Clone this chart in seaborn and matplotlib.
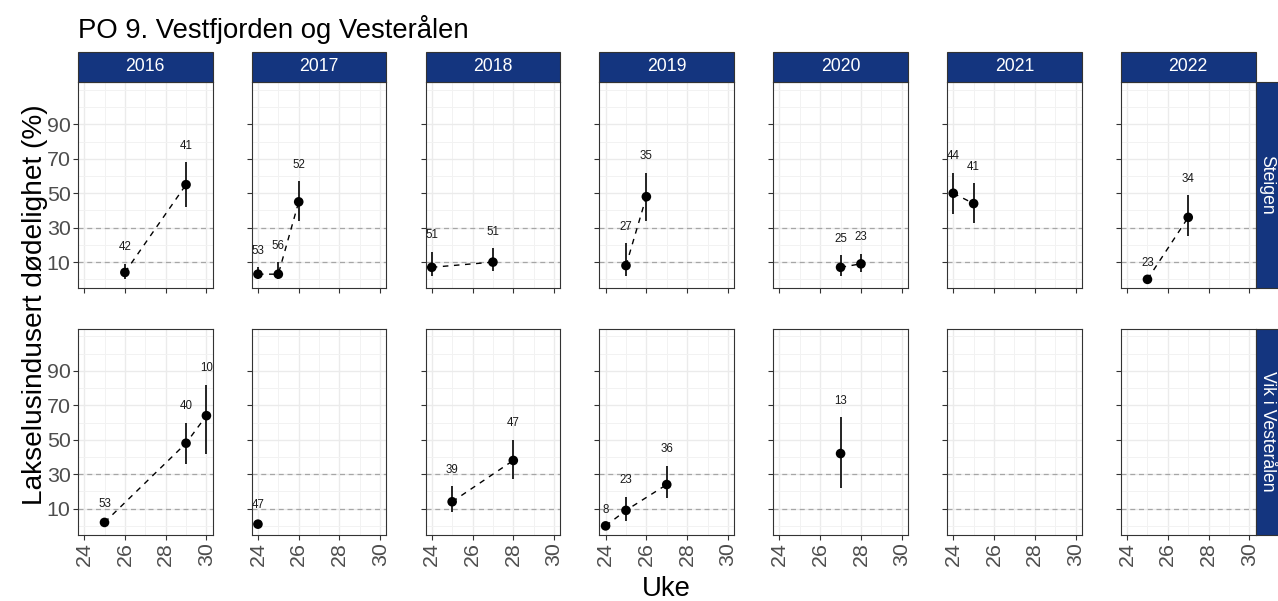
import matplotlib
matplotlib.use("Agg")
import seaborn as sns
import matplotlib.pyplot as plt
import pandas as pd
from matplotlib.patches import Rectangle

# Data
sites = ["Steigen"] * 15 + ["Vik i Vesterålen"] * 10
years = ([2016, 2016, 2017, 2017, 2017, 2018, 2018, 2019, 2019, 2020, 2020, 2021, 2021, 2022, 2022]
         + [2016, 2016, 2016, 2017, 2018, 2018, 2019, 2019, 2019, 2020])
weeks = [26, 29, 24, 25, 26, 24, 27, 25, 26, 27, 28, 24, 25, 25, 27,
         25, 29, 30, 24, 25, 28, 24, 25, 27, 27]
mort = [4, 55, 3, 3, 45, 7, 10, 8, 48, 7, 9, 50, 44, 0, 36,
        2, 48, 64, 1, 14, 38, 0, 9, 24, 42]
lower = [0, 42, 0, 0, 34, 2, 5, 2, 34, 2, 4, 38, 33, 0, 25,
         0, 36, 42, 0, 8, 27, 0, 3, 16, 22]
upper = [9, 68, 7, 10, 57, 16, 18, 21, 62, 14, 15, 62, 56, 0, 49,
         3, 60, 82, 2.5, 23, 50, 0, 17, 35, 63]
n_fish = [42, 41, 53, 56, 52, 51, 51, 27, 35, 25, 23, 44, 41, 23, 34,
          53, 40, 10, 47, 39, 47, 8, 23, 36, 13]

year_order = [2016, 2017, 2018, 2019, 2020, 2021, 2022]
site_order = ["Steigen", "Vik i Vesterålen"]

df = pd.DataFrame({"site": sites, "year": years, "week": weeks, "mort": mort,
                   "lo": lower, "hi": upper, "n": n_fish})

sns.set_style("white")
plt.rcParams["font.family"] = ["Liberation Sans", "DejaVu Sans"]

STRIP = "#14357F"
BORDER = "#333333"


def draw_panel(data, **kws):
    ax = plt.gca()
    ax.vlines(data["week"], data["lo"], data["hi"], color="black", lw=1.2, zorder=3)
    sns.lineplot(data=data, x="week", y="mort", color="black", lw=1.0, ax=ax, zorder=3)
    ax.lines[-1].set_dashes((4, 4))
    sns.scatterplot(data=data, x="week", y="mort", color="black", s=48,
                    edgecolor="none", ax=ax, zorder=4)
    for _, r in data.iterrows():
        ax.text(r["week"], r["hi"] + 9.5, str(r["n"]), ha="center", va="center",
                fontsize=8.3, color="#1a1a1a", clip_on=True, zorder=5)


g = sns.FacetGrid(df, row="site", col="year", row_order=site_order, col_order=year_order,
                  sharex=True, sharey=True, despine=False, height=3, aspect=0.65)
g.map_dataframe(draw_panel)

fig = g.figure
fig.set_size_inches(12.78, 6.01)
fig.subplots_adjust(left=78 / 1278, right=1255.5 / 1278, top=1 - 82 / 601,
                    bottom=1 - 535 / 601, wspace=0.292, hspace=0.194)
g.set_titles("")
g.set_axis_labels("", "")

for i, site in enumerate(site_order):
    for j, yr in enumerate(year_order):
        ax = g.axes[i, j]
        ax.axhline(10, color="#A6A6A6", lw=0.9, ls=(0, (4, 3)), zorder=2)
        ax.axhline(30, color="#A6A6A6", lw=0.9, ls=(0, (4, 3)), zorder=2)
        ax.set_xlim(23.7, 30.3)
        ax.set_ylim(-5.3, 114.6)
        ax.set_xticks([24, 26, 28, 30])
        ax.set_xticks([25, 27, 29], minor=True)
        ax.set_yticks([10, 30, 50, 70, 90])
        ax.set_yticks([0, 20, 40, 60, 80, 100, 110], minor=True)
        ax.grid(True, which="major", color="#EBEBEB", lw=1.0, zorder=0)
        ax.grid(True, which="minor", color="#F2F2F2", lw=0.7, zorder=0)
        ax.set_axisbelow(True)
        ax.tick_params(which="major", length=3.3, width=0.8, color=BORDER,
                       labelsize=15.4, labelcolor="#4D4D4D", pad=2, left=True, bottom=True)
        ax.tick_params(which="minor", length=0)
        ax.tick_params(axis="x", labelrotation=90)
        for s in ax.spines.values():
            s.set_color(BORDER)
            s.set_linewidth(0.8)
        ax.set_xlabel("")
        ax.set_ylabel("")
        if i == 0:
            ax.tick_params(axis="x", labelbottom=False)
            h = 30.5 / 206.5
            ax.add_patch(Rectangle((0, 1), 1, h, transform=ax.transAxes, facecolor=STRIP,
                                   edgecolor=BORDER, lw=0.8, clip_on=False, zorder=5))
            ax.text(0.5, 1 + h / 2, str(yr), transform=ax.transAxes, ha="center",
                    va="center", color="white", fontsize=12.7, zorder=6)
        if j > 0:
            ax.tick_params(axis="y", labelleft=False)
        if j == len(year_order) - 1:
            w = 23 / 134.5
            ax.add_patch(Rectangle((1, 0), w, 1, transform=ax.transAxes, facecolor=STRIP,
                                   edgecolor=BORDER, lw=0.8, clip_on=False, zorder=5))
            ax.text(1 + w / 2, 0.5, site, transform=ax.transAxes, ha="center",
                    va="center", rotation=-90, color="white", fontsize=12.7, zorder=6)

fig.text(78 / 1278, 1 - 30 / 601, "PO 9. Vestfjorden og Vesterålen", ha="left",
         va="center", fontsize=19.8, color="black")
fig.text(0.5 * (78 + 1255.5) / 1278, 1 - 589 / 601, "Uke", ha="center", va="center",
         fontsize=19.8, color="black")
fig.text(35 / 1278, 1 - 305 / 601, "Lakselusindusert dødelighet (%)", ha="center",
         va="center", rotation=90, fontsize=20.2, color="black")

fig.savefig("out.png", dpi=100)
